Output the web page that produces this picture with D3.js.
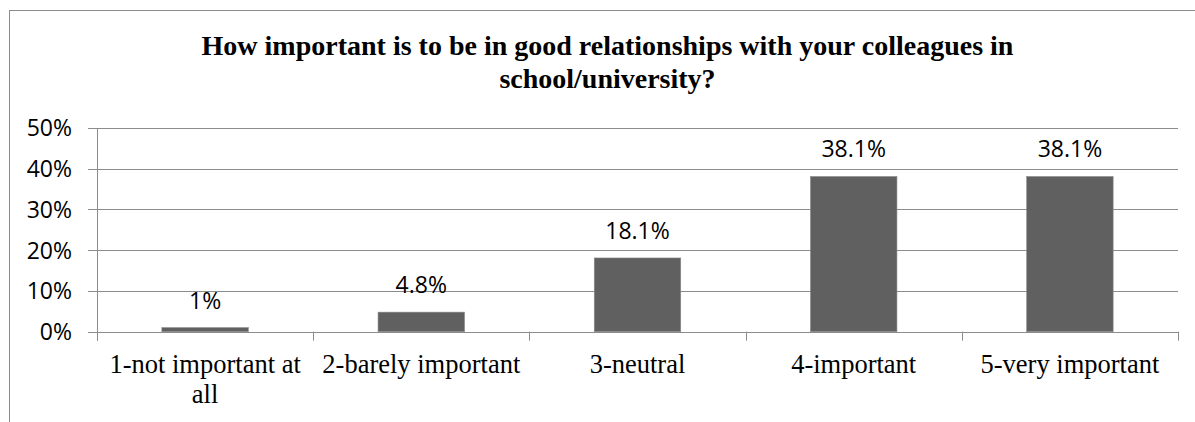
<!DOCTYPE html>
<html><head><meta charset="utf-8">
<script src="https://cdn.jsdelivr.net/npm/d3@7"></script>
<style>body{margin:0;background:#fff}svg{display:block}</style>
</head><body>
<svg id="chart" width="1195" height="422"></svg>
<script>
const categories = ["1-not important at all","2-barely important","3-neutral","4-important","5-very important"];
const categoryLines = [["1-not important at","all"],["2-barely important"],["3-neutral"],["4-important"],["5-very important"]];
const values = [1, 4.8, 18.1, 38.1, 38.1];
const valueLabels = ["1%","4.8%","18.1%","38.1%","38.1%"];
const yTicks = [0,10,20,30,40,50];
const titleLines = ["How important is to be in good relationships with your colleagues in","school/university?"];

const svg = d3.select("#chart");
const m = {left:97, right:1178, top:128, bottom:331.7};

svg.append("rect").attr("x",9.5).attr("y",10.5).attr("width",1300).attr("height",500)
  .attr("fill","#fff").attr("stroke","#8c8c8c").attr("stroke-width",1);

const x = d3.scaleBand().domain(categories).range([m.left,m.right]).paddingInner(0.6).paddingOuter(0.3);
const y = d3.scaleLinear().domain([0,50]).range([m.bottom,m.top]);

// gridlines
svg.append("g").selectAll("line").data(yTicks).join("line")
  .attr("x1",m.left-9).attr("x2",m.right).attr("y1",d=>Math.round(y(d))+0.5).attr("y2",d=>Math.round(y(d))+0.5)
  .attr("stroke","#8c8c8c").attr("stroke-width",1);

// y axis line
svg.append("line").attr("x1",m.left+0.5).attr("x2",m.left+0.5).attr("y1",m.top).attr("y2",m.bottom+9)
  .attr("stroke","#8c8c8c");

// y labels
svg.append("g").selectAll("text").data(yTicks).join("text")
  .attr("x",72).attr("y",d=>y(d)).attr("dy","0.36em").attr("text-anchor","end")
  .attr("font-family","'Open Sans', sans-serif").attr("font-size",23).attr("fill","#000")
  .text(d=>d+"%");

// x ticks at boundaries
const step = x.step();
const bounds = d3.range(categories.length+1).map(i=>m.left+i*step);
svg.append("g").selectAll("line").data(bounds).join("line")
  .attr("x1",d=>Math.round(d)+0.5).attr("x2",d=>Math.round(d)+0.5).attr("y1",m.bottom).attr("y2",m.bottom+9)
  .attr("stroke","#8c8c8c");

// bars
svg.append("g").selectAll("rect").data(values).join("rect")
  .attr("x",(d,i)=>x(categories[i])).attr("width",x.bandwidth())
  .attr("y",d=>y(d)).attr("height",d=>y(0)-y(d))
  .attr("fill","#606060").attr("stroke","#8a8a8a").attr("stroke-width",0.6);

// data labels
svg.append("g").selectAll("text").data(values).join("text")
  .attr("x",(d,i)=>x(categories[i])+x.bandwidth()/2).attr("y",d=>y(d)-19)
  .attr("text-anchor","middle").attr("font-family","'Open Sans', sans-serif").attr("font-size",23)
  .text((d,i)=>valueLabels[i]);

// x labels
const xl = svg.append("g").selectAll("text").data(categoryLines).join("text")
  .attr("x",(d,i)=>x(categories[i])+x.bandwidth()/2).attr("y",373)
  .attr("text-anchor","middle").attr("font-family","'Liberation Serif', 'Times New Roman', serif").attr("font-size",26.5);
xl.selectAll("tspan").data(d=>d).join("tspan")
  .attr("x",function(){return this.parentNode.getAttribute("x");})
  .attr("dy",(d,i)=>i===0?0:30).text(d=>d);

// title
svg.append("g").selectAll("text").data(titleLines).join("text")
  .attr("x",607.5).attr("y",(d,i)=>55+i*33).attr("text-anchor","middle")
  .attr("font-family","'Liberation Serif', 'Times New Roman', serif").attr("font-weight","bold").attr("font-size",28)
  .text(d=>d);
</script>
</body></html>
